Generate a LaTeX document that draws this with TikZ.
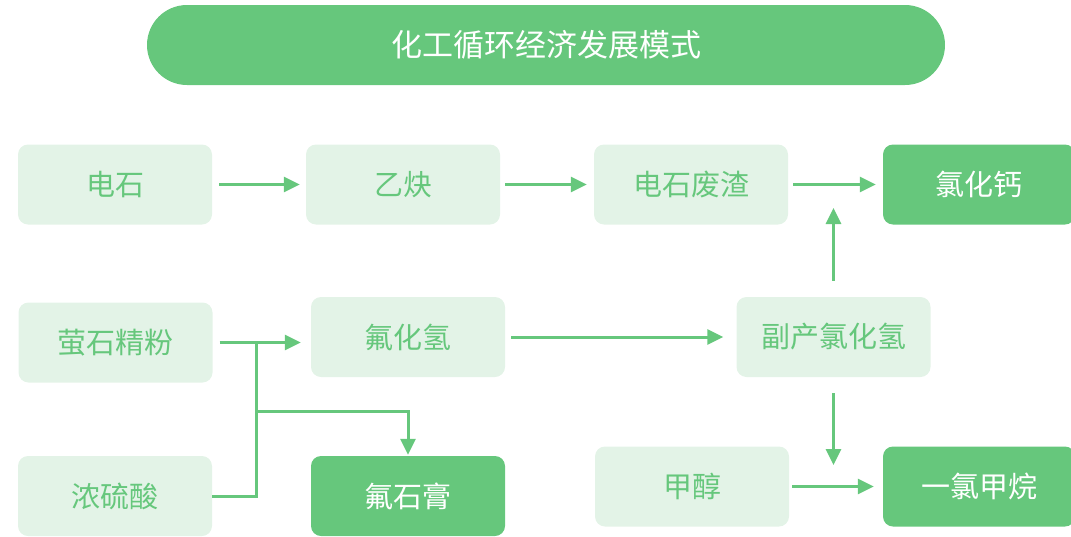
\documentclass[tikz,border=0pt]{standalone}
\usepackage{fontspec}
\setmainfont{Noto Sans CJK SC}
\usetikzlibrary{arrows.meta}
\definecolor{dg}{HTML}{66C77C}
\definecolor{lg}{HTML}{E3F3E7}
\tikzset{
  boxbase/.style={rounded corners=10pt, inner sep=0pt, minimum width=194pt, minimum height=80pt, font=\fontsize{29}{33}\selectfont},
  light/.style={boxbase, fill=lg, text=dg},
  dark/.style={boxbase, fill=dg, text=white},
  conn/.style={draw=dg, line width=3pt, -{Triangle[length=16pt,width=15pt]}},
  plain/.style={draw=dg, line width=3pt}
}
\begin{document}
\begin{tikzpicture}[x=1pt,y=-1pt]
\useasboundingbox (0,0) rectangle (1071,536);
\node[fill=dg, rounded corners=40pt, minimum width=798pt, minimum height=80pt, inner sep=0pt, text=white, font=\fontsize{31}{35}\selectfont] (title) at (546,45) {化工循环经济发展模式};

\node[light] (ds) at (115,184.5) {电石};
\node[light] (yq) at (403,184.5) {乙炔};
\node[light] (dsfz) at (691,184.5) {电石废渣};
\node[dark, minimum width=192pt] (lhg) at (979,184.5) {氯化钙};

\node[light] (ys) at (115.5,342.5) {萤石精粉};
\node[light] (fhq) at (408,337) {氟化氢};
\node[light] (fc) at (833.5,337) {副产氯化氢};

\node[light] (nls) at (115,496) {浓硫酸};
\node[dark] (fsg) at (408,496) {氟石膏};
\node[light] (jc) at (692,486.5) {甲醇};
\node[dark, minimum width=192pt] (ylj) at (979,486.5) {一氯甲烷};

\coordinate (jn) at (256,342.5);
\coordinate (br) at (256,411);
\coordinate (dn) at (833.5,465);
\coordinate (up) at (833.5,208);

\draw[conn, shorten <=7pt, shorten >=6pt] (ds) -- (yq);
\draw[conn, shorten <=5pt, shorten >=7pt] (yq) -- (dsfz);
\draw[conn, shorten <=5pt, shorten >=7pt] (dsfz) -- (lhg);
\draw[conn, shorten <=16pt] (fc.north) -- (up);

\draw[conn, shorten <=7pt, shorten >=10pt] (ys.east) -- (ys.east -| fhq.west);
\draw[plain] (nls.east) -- (nls.east -| jn) -- (jn);
\draw[conn, shorten >=1pt] (br) -- (br -| fsg.north) -- (fsg.north);
\draw[conn, shorten <=6pt, shorten >=13pt] (fhq.east) -- (fc.west);
\draw[conn, shorten <=16pt] (fc.south) -- (dn);
\draw[conn, shorten <=3pt, shorten >=9pt] (jc) -- (ylj);
\end{tikzpicture}
\end{document}
